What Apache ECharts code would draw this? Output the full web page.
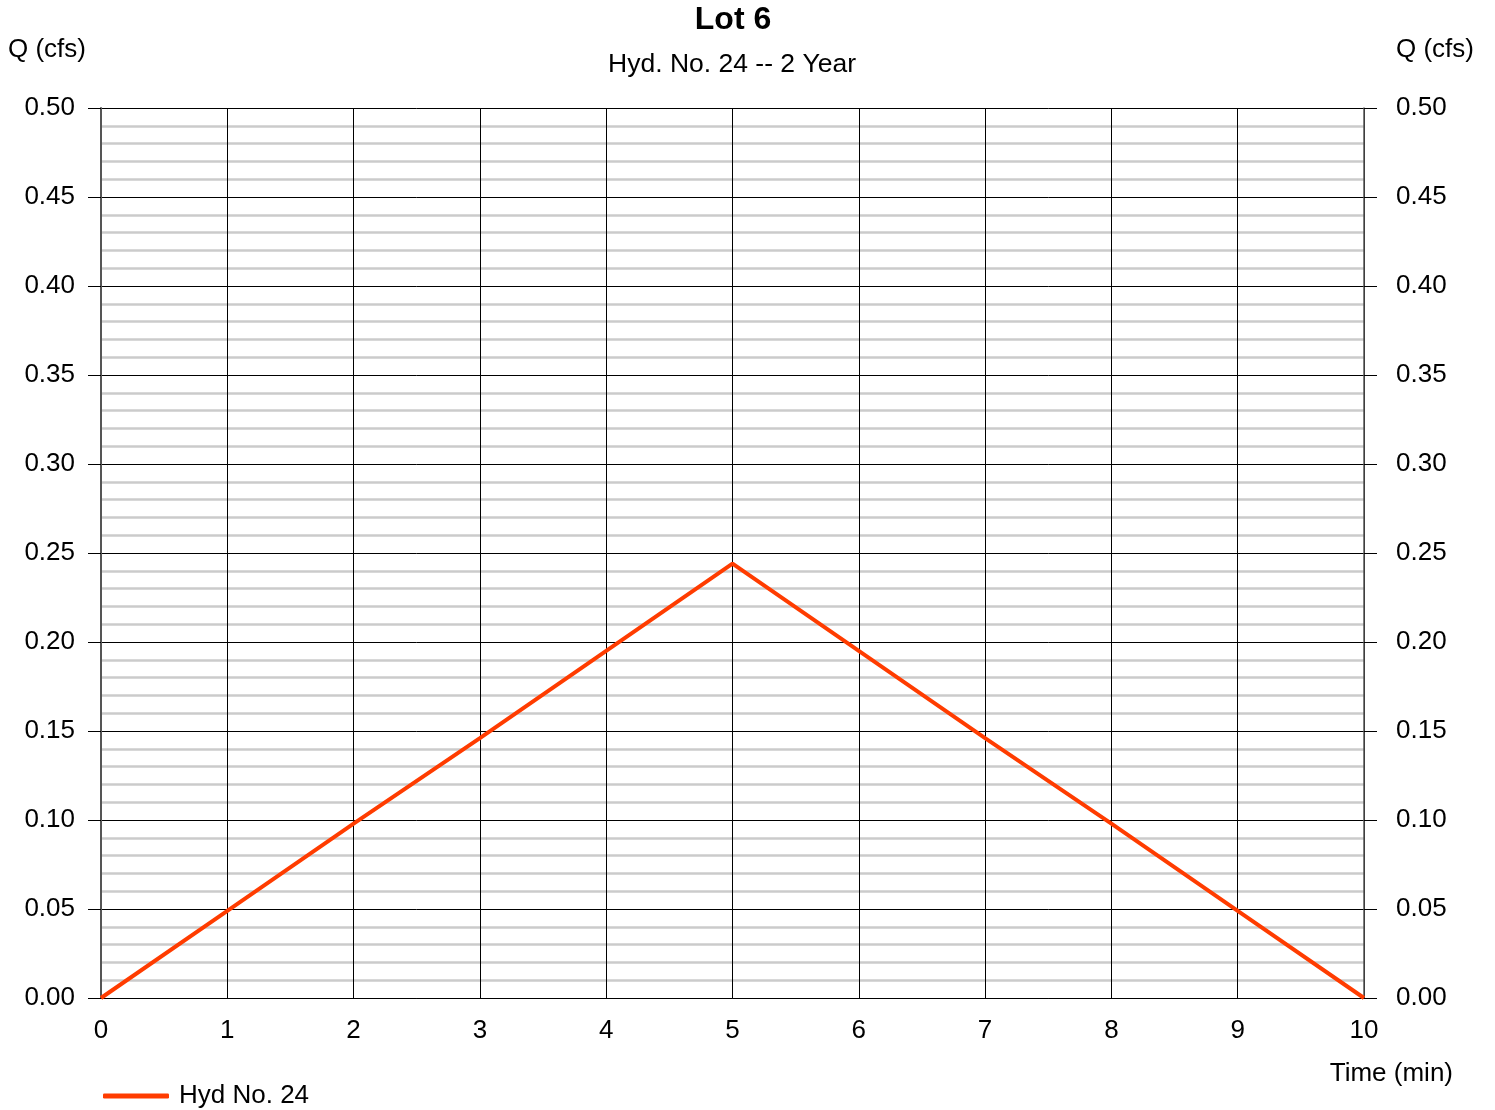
<!DOCTYPE html>
<html><head><meta charset="utf-8">
<script src="https://cdn.jsdelivr.net/npm/echarts@6/dist/echarts.min.js"></script>
<style>html,body{margin:0;padding:0;background:#fff}#c{width:1495px;height:1110px}</style>
</head><body><div id="c"></div>
<script>
const timeMin = [0, 1, 2, 3, 4, 5, 6, 7, 8, 9, 10];
const flowCfs = [0, 0.049, 0.098, 0.146, 0.195, 0.244, 0.195, 0.146, 0.098, 0.049, 0];
const seriesName = 'Hyd No. 24';
const titleText = 'Lot 6';
const subtitleText = 'Hyd. No. 24 -- 2 Year';

const FONT = 'Liberation Sans, Arial, sans-serif';
const FS = 26;
const chart = echarts.init(document.getElementById('c'));
const yAxisCommon = {
  type: 'value', min: 0, max: 0.5, interval: 0.05,
  axisLine: { show: true, lineStyle: { color: '#555', width: 2 } },
  axisTick: { show: true, length: 13, lineStyle: { color: '#000', width: 1 } },
  axisLabel: { fontFamily: FONT, fontSize: FS, color: '#000', padding: [4, 0, 0, 0], formatter: v => v.toFixed(2) },
  splitLine: { show: true, lineStyle: { color: '#000', width: 1 } },
  minorTick: { show: false, splitNumber: 5 },
  minorSplitLine: { show: true, lineStyle: { color: '#cbcbcb', width: 2.5 } }
};
chart.setOption({
  animation: false,
  backgroundColor: '#fff',
  grid: { left: 101, right: 131, top: 108, bottom: 112 },
  legend: {
    left: 98, top: 1078, itemWidth: 66, itemHeight: 5, itemGap: 10,
    data: [{ name: seriesName, icon: 'roundRect' }],
    textStyle: { fontFamily: FONT, fontSize: FS, color: '#000', padding: [0, 0, 0, 5] }
  },
  xAxis: {
    type: 'value', min: 0, max: 10, interval: 1,
    axisLine: { show: true, lineStyle: { color: '#000', width: 1 } },
    axisTick: { show: false },
    axisLabel: { fontFamily: FONT, fontSize: FS, color: '#000', margin: 20 },
    splitLine: { show: true, lineStyle: { color: '#000', width: 1 } }
  },
  yAxis: [
    Object.assign({}, yAxisCommon, { position: 'left', axisLabel: Object.assign({}, yAxisCommon.axisLabel, { margin: 26 }) }),
    Object.assign({}, yAxisCommon, { position: 'right', axisLine: { show: true, lineStyle: { color: '#555', width: 1.5 } }, splitLine: { show: false }, minorSplitLine: { show: false }, axisLabel: Object.assign({}, yAxisCommon.axisLabel, { margin: 32 }) })
  ],
  graphic: [
    { type: 'text', x: 733, y: 20, style: { text: titleText, fontFamily: FONT, fontSize: 32, fontWeight: 'bold', fill: '#000', align: 'center', verticalAlign: 'middle' } },
    { type: 'text', x: 732, y: 65, style: { text: subtitleText, fontFamily: FONT, fontSize: 26.5, fill: '#000', align: 'center', verticalAlign: 'middle' } },
    { type: 'text', x: 8, y: 50, style: { text: 'Q (cfs)', fontFamily: FONT, fontSize: FS, fill: '#000', align: 'left', verticalAlign: 'middle' } },
    { type: 'text', x: 1396, y: 50, style: { text: 'Q (cfs)', fontFamily: FONT, fontSize: FS, fill: '#000', align: 'left', verticalAlign: 'middle' } },
    { type: 'text', x: 1453, y: 1074, style: { text: 'Time (min)', fontFamily: FONT, fontSize: FS, fill: '#000', align: 'right', verticalAlign: 'middle' } }
  ],
  series: [{
    name: seriesName, type: 'line', yAxisIndex: 0,
    data: timeMin.map((t, i) => [t, flowCfs[i]]),
    showSymbol: false, symbol: 'none',
    lineStyle: { color: '#ff3c00', width: 4 },
    itemStyle: { color: '#ff3c00' }
  }]
});
</script></body></html>
